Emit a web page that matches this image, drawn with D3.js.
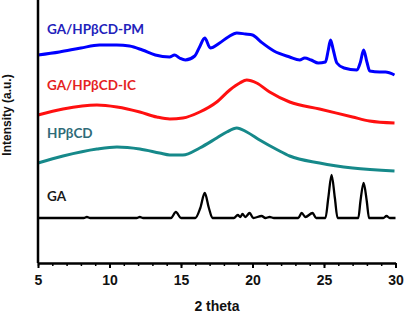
<!DOCTYPE html>
<html>
<head>
<meta charset="utf-8">
<script src="https://cdn.jsdelivr.net/npm/d3@7"></script>
<style>
  body { margin: 0; background: #fff; }
  svg { display: block; }
</style>
</head>
<body>
<div id="chart"></div>
<script>
// 2 theta positions and intensities (a.u.)
const pmTheta = [5, 6.5, 8, 9.3, 10.5, 11.4, 12.3, 13.2, 14.2, 14.55, 14.9, 15.3, 15.96, 16.3, 16.66, 17.05, 17.7, 18.3, 18.9, 19.5, 20, 20.6, 21.5, 22.6, 23.3, 23.65, 24.1, 24.6, 25.1, 25.3, 25.46, 25.65, 25.9, 26.4, 27.3, 27.55, 27.77, 28, 28.2, 28.9, 29.3, 29.93]
const pmValues = [208, 211, 215, 218, 218, 217, 213, 208, 206, 208, 205, 203, 207, 216, 225, 215, 220, 226, 230, 229, 228, 221, 212, 206, 203, 205, 203, 200, 201, 213, 223, 213, 200, 195, 193, 201, 213, 201, 192, 191, 191, 188]

const icTheta = [5, 6.75, 9.12, 10.52, 12.12, 13.31, 14.22, 15.13, 16.31, 17.5, 18.41, 19.11, 19.6, 20.29, 21.2, 22.6, 24.69, 27, 28.18, 29.93]
const icValues = [148, 154, 158, 156, 151, 146, 144, 145, 151, 161, 173, 180, 183, 180, 171, 161, 154, 146, 142, 140]

const cdTheta = [5, 6.75, 9.12, 10.52, 12.12, 13.5, 14.22, 15.13, 16.31, 17.5, 18.2, 18.9, 19.6, 20.5, 21.76, 22.6, 24.69, 27, 29.93]
const cdValues = [100, 107, 114, 116, 114, 110, 108, 108, 115, 125, 131, 135, 131, 123, 113, 107, 100, 95, 92]

const gaTheta = [5, 8.2, 8.42, 8.65, 11.9, 12.12, 12.35, 14.3, 14.64, 15, 16, 16.35, 16.66, 16.95, 17.2, 18.7, 18.97, 19.15, 19.3, 19.5, 19.8, 20.05, 20.64, 20.9, 21.2, 21.5, 23.2, 23.44, 23.7, 24.2, 24.45, 25.1, 25.3, 25.53, 25.76, 25.95, 27.4, 27.55, 27.77, 27.99, 28.15, 29.15, 29.37, 29.6, 30]
const gaValues = [45, 45, 46, 45, 45, 46, 45, 45, 51, 45, 45, 55, 70, 55, 45, 45, 48, 46, 49, 46, 50, 45, 47, 45, 46, 45, 45, 50, 46, 50, 45, 45, 65, 88, 65, 45, 45, 62, 80, 62, 45, 45, 47, 45, 45]

const seriesNames = ["GA/HPβCD-PM", "GA/HPβCD-IC", "HPβCD", "GA"]
const xTicks = [5, 10, 15, 20, 25, 30]

let margin = { top: 0, right: 8, bottom: 51, left: 38 }
let width = 404 - margin.left - margin.right
let height = 314 - margin.top - margin.bottom

const series = [
    { name: seriesNames[0], theta: pmTheta, values: pmValues, color: "#0000ff", label: "#2222bb", w: 3, ly: 34 },
    { name: seriesNames[1], theta: icTheta, values: icValues, color: "#ff1010", label: "#e52222", w: 3, ly: 90 },
    { name: seriesNames[2], theta: cdTheta, values: cdValues, color: "#16898a", label: "#2f6b78", w: 3, ly: 138 },
    { name: seriesNames[3], theta: gaTheta, values: gaValues, color: "#000000", label: "#1a1a1a", w: 2.3, ly: 201 }
]

let svg = d3.select("#chart")
    .append("svg")
    .attr("width", 404)
    .attr("height", 314)
    .append("g")
    .attr("transform", "translate(" + margin.left + "," + margin.top + ")")

let x = d3.scaleLinear()
    .domain([5, 30])
    .range([0, width - 0.5])

let y = d3.scaleLinear()
    .domain([0, 263])
    .range([height, 0])

const line = d3.line()
    .x(d => x(d[0]))
    .y(d => y(d[1]))
    .curve(d3.curveMonotoneX)

series.forEach(s => {
    svg.append("path")
        .datum(s.theta.map((t, i) => [t, s.values[i]]))
        .attr("fill", "none")
        .attr("stroke", s.color)
        .attr("stroke-width", s.w)
        .attr("stroke-linejoin", "round")
        .attr("d", line)

    svg.append("text")
        .attr("x", 9)
        .attr("y", s.ly)
        .attr("fill", s.label)
        .style("font-family", "Lato, 'Open Sans', sans-serif")
        .style("font-weight", "bold")
        .style("font-size", "13.5px")
        .text(s.name)
})

// minor ticks
svg.append("g")
    .attr("transform", "translate(0," + height + ")")
    .call(d3.axisBottom(x).ticks(25).tickSize(3).tickFormat(""))
    .call(g => g.select(".domain").remove())
    .selectAll("line").attr("stroke-width", 1.5)

// major ticks and labels
let xAxis = svg.append("g")
    .attr("transform", "translate(0," + height + ")")
    .call(d3.axisBottom(x).tickValues(xTicks).tickSize(5).tickSizeOuter(0).tickPadding(7))

xAxis.select(".domain").attr("stroke-width", 2.5)
xAxis.selectAll("line").attr("stroke-width", 2)
xAxis.selectAll("text")
    .style("font-family", "'Liberation Sans', Arial, sans-serif")
    .style("font-weight", "bold")
    .style("font-size", "14px")
    .attr("fill", "#111")

// y axis line only
svg.append("line")
    .attr("x1", 0).attr("x2", 0)
    .attr("y1", 0).attr("y2", height)
    .attr("stroke", "#000")
    .attr("stroke-width", 2.5)

svg.append("text")
    .attr("x", width / 2)
    .attr("y", height + 47.5)
    .attr("text-anchor", "middle")
    .style("font-family", "'Liberation Sans', Arial, sans-serif")
    .style("font-weight", "bold")
    .style("font-size", "14px")
    .attr("fill", "#111")
    .text("2 theta")

svg.append("text")
    .attr("transform", "translate(" + (-27) + "," + 115 + ") rotate(-90)")
    .attr("text-anchor", "middle")
    .style("font-family", "'Liberation Sans', Arial, sans-serif")
    .style("font-weight", "bold")
    .style("font-size", "12px")
    .attr("fill", "#111")
    .text("Intensity (a.u.)")
</script>
</body>
</html>
